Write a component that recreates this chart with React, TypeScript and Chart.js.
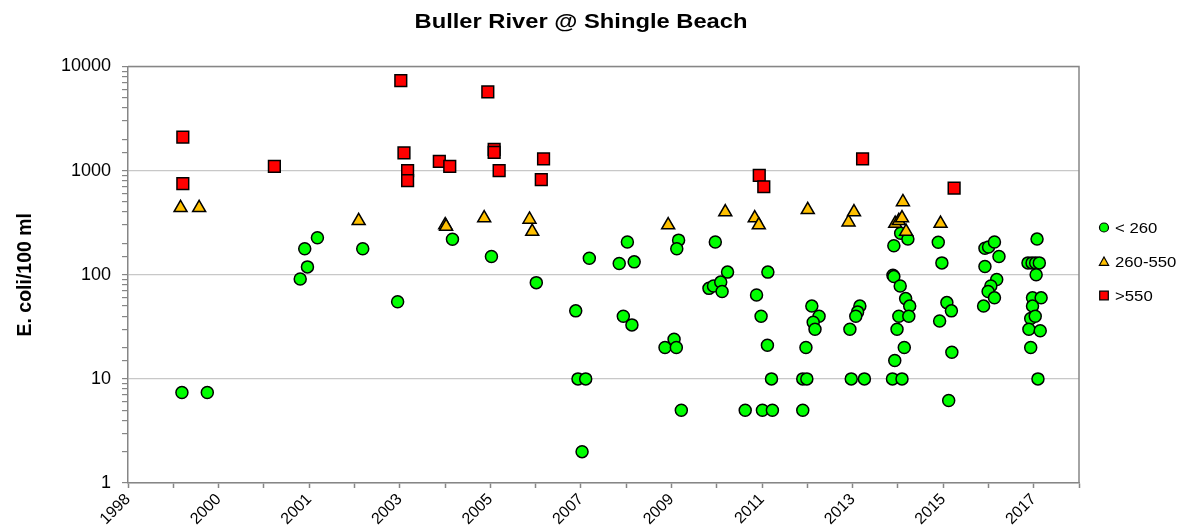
import { useEffect, useRef } from 'react';
import { Chart, registerables } from 'chart.js';

Chart.register(...registerables);

const FONT = '"Liberation Sans", Arial, Helvetica, sans-serif';

const chartTitle = 'Buller River @ Shingle Beach';
const yAxisTitle = 'E. coli/100 ml';
const seriesNames = ['< 260', '260-550', '>550'];

// x axis: Excel date axis starting 1998-01-01, minor unit 365 days, labelled every 730 days
const xStartYear = 1998;
const xMinorDays = 365;
const xMinorCount = 21;
const xTickLabels = ['1998', '2000', '2001', '2003', '2005', '2007', '2009', '2011', '2013', '2015', '2017'];
const yTickLabels = [1, 10, 100, 1000, 10000];

// "< 260" series (decimal year, E. coli/100 ml)
const lowYears = [
  1999.19, 1999.75, 2001.8, 2001.9, 2001.96, 2002.18, 2003.18, 2003.95, 2005.16, 2006.02,
  2007.01, 2007.88, 2007.93, 2008.1, 2008.02, 2008.18, 2008.84, 2009.02, 2009.17, 2008.93,
  2009.12, 2010.15, 2010.11, 2009.85, 2010.05, 2010.1, 2010.21, 2010.96, 2011.23, 2010.82,
  2010.92, 2011.08, 2011.11, 2012.12, 2011.87, 2011.97, 2012.11, 2012.2, 2011.62, 2012.0,
  2012.22, 2013.09, 2013.25, 2013.12, 2013.16, 2012.96, 2012.89, 2012.98, 2012.89, 2014.15,
  2014.1, 2014.06, 2013.93, 2013.96, 2014.25, 2015.05, 2015.21, 2014.9, 2014.88, 2014.9,
  2015.04, 2015.16, 2015.25, 2015.01, 2015.23, 2014.97, 2015.13, 2014.92, 2014.87, 2015.08,
  2015.88, 2015.96, 2016.07, 2016.17, 2015.91, 2016.18, 2016.11, 2016.91, 2016.99, 2017.12,
  2017.22, 2016.91, 2017.17, 2017.04, 2016.98, 2017.12, 2016.88, 2018.06, 2017.86, 2017.95,
  2018.03, 2018.11, 2018.04, 2017.96, 2018.15, 2017.96, 2017.92, 2018.02, 2017.88, 2018.13,
  2017.92, 2018.08,
];
const lowValues = [
  7.4, 7.4, 91, 178, 119, 227, 178, 55, 219, 150,
  84, 45, 10, 10, 2, 144, 128, 206, 133, 40,
  33, 215, 178, 20, 24, 20, 5, 206, 106, 74,
  78, 85, 69, 106, 64, 40, 21, 10, 5, 5,
  5, 50, 40, 35, 30, 20, 10, 10, 5, 50,
  44, 40, 30, 10, 10, 250, 220, 190, 99, 96,
  78, 59, 50, 40, 40, 30, 20, 15, 10, 10,
  205, 130, 54, 45, 36, 18, 6.2, 180, 185, 206,
  150, 120, 90, 78, 69, 60, 50, 220, 130, 130,
  130, 130, 100, 60, 60, 50, 38, 40, 30, 29,
  20, 10,
];

// "260-550" series
const midYears = [
  1999.16, 1999.57, 2003.09, 2005.0, 2005.02, 2005.86, 2006.86, 2006.92, 2009.92, 2011.18,
  2011.83, 2011.92, 2013.0, 2013.9, 2014.02, 2014.93, 2015.01, 2015.08, 2015.1, 2015.17,
  2015.93,
];
const midValues = [
  440, 440, 330, 300, 290, 350, 340, 260, 300, 400,
  350, 300, 420, 320, 400, 310, 330, 350, 500, 260,
  310,
];

// ">550" series
const highYears = [
  1999.21, 1999.21, 2001.23, 2004.02, 2004.09, 2004.17, 2004.17, 2004.87, 2005.1, 2005.94,
  2006.08, 2006.08, 2006.19, 2007.12, 2007.17, 2011.93, 2012.03, 2014.21, 2016.23,
];
const highValues = [
  2100, 750, 1100, 7300, 1480, 1000, 800, 1230, 1100, 5700,
  1600, 1500, 1000, 820, 1300, 900, 700, 1300, 680,
];

const toDays = (yr: number) => (yr - xStartYear) * 365.25;
const toPoints = (years: number[], values: number[]) =>
  years.map((yr, i) => ({ x: toDays(yr), y: values[i] }));

const isDecade = (v: number) => {
  const l = Math.log10(v);
  return Math.abs(l - Math.round(l)) < 1e-9;
};

const GREEN = '#00ff00';
const ORANGE = '#ffc000';
const RED = '#ff0000';
const EDGE = '#000000';
const AXIS = '#868686';

const framePlugin = {
  id: 'frame',
  beforeDatasetsDraw(chart: any) {
    const { ctx, chartArea: a } = chart;
    ctx.save();
    ctx.strokeStyle = AXIS;
    ctx.lineWidth = 1.5;
    ctx.beginPath();
    ctx.moveTo(a.left, a.top);
    ctx.lineTo(a.right, a.top);
    ctx.lineTo(a.right, a.bottom);
    ctx.stroke();
    ctx.restore();
  },
};

// Title drawn as canvas text, widened horizontally like the reference's stretched rendering
const titlePlugin = {
  id: 'stretchedTitle',
  afterDraw(chart: any) {
    const { ctx, chartArea: a } = chart;
    ctx.save();
    ctx.font = `bold 20px ${FONT}`;
    ctx.fillStyle = '#000';
    ctx.textAlign = 'center';
    ctx.textBaseline = 'alphabetic';
    const w = ctx.measureText(chartTitle).width;
    const sx = 333 / w;
    ctx.translate(a.left + 453, 27.5);
    ctx.scale(sx, 1);
    ctx.fillText(chartTitle, 0, 0);
    ctx.restore();
  },
};

const legendPlugin = {
  id: 'sideLegend',
  afterDraw(chart: any) {
    const { ctx, chartArea: a } = chart;
    const mx = a.right + 25;
    const tx = a.right + 36;
    const y0 = a.top + 161;
    const gap = 34;
    ctx.save();
    ctx.lineWidth = 1.2;
    ctx.strokeStyle = EDGE;
    ctx.beginPath();
    ctx.arc(mx, y0, 4.5, 0, Math.PI * 2);
    ctx.fillStyle = GREEN;
    ctx.fill();
    ctx.stroke();
    const ty = y0 + gap;
    ctx.beginPath();
    ctx.moveTo(mx, ty - 4.5);
    ctx.lineTo(mx + 4.6, ty + 3.8);
    ctx.lineTo(mx - 4.6, ty + 3.8);
    ctx.closePath();
    ctx.fillStyle = ORANGE;
    ctx.fill();
    ctx.stroke();
    const sy = y0 + gap * 2;
    ctx.beginPath();
    ctx.rect(mx - 4.3, sy - 4.3, 8.6, 8.6);
    ctx.fillStyle = RED;
    ctx.fill();
    ctx.stroke();
    ctx.fillStyle = '#000';
    ctx.font = `15.5px ${FONT}`;
    ctx.textBaseline = 'middle';
    ctx.textAlign = 'left';
    seriesNames.forEach((n, i) => {
      ctx.save();
      ctx.translate(tx, y0 + gap * i + 1);
      ctx.scale(1.08, 1);
      ctx.fillText(n, 0, 0);
      ctx.restore();
    });
    ctx.restore();
  },
};

export default function App() {
  const ref = useRef<HTMLCanvasElement | null>(null);

  useEffect(() => {
    if (!ref.current) return;
    const chart = new Chart(ref.current, {
      type: 'scatter',
      data: {
        datasets: [
          {
            label: seriesNames[0],
            data: toPoints(lowYears, lowValues),
            pointStyle: 'circle',
            pointRadius: 6,
            pointBackgroundColor: GREEN,
            pointBorderColor: EDGE,
            pointBorderWidth: 1.5,
            order: 3,
          },
          {
            label: seriesNames[1],
            data: toPoints(midYears, midValues),
            pointStyle: 'triangle',
            pointRadius: 7.5,
            pointBackgroundColor: ORANGE,
            pointBorderColor: EDGE,
            pointBorderWidth: 1.5,
            order: 2,
          },
          {
            label: seriesNames[2],
            data: toPoints(highYears, highValues),
            pointStyle: 'rect',
            pointRadius: 8.3,
            pointBackgroundColor: RED,
            pointBorderColor: EDGE,
            pointBorderWidth: 1.5,
            order: 1,
          },
        ],
      },
      options: {
        animation: false,
        responsive: true,
        maintainAspectRatio: false,
        events: [],
        layout: { padding: { left: 0, right: 105, top: 66.5, bottom: 0 } },
        plugins: {
          legend: { display: false },
          tooltip: { enabled: false },
          title: { display: false },
        },
        scales: {
          x: {
            type: 'linear',
            min: 0,
            max: xMinorDays * xMinorCount,
            afterBuildTicks: (scale: any) => {
              scale.ticks = Array.from({ length: xMinorCount + 1 }, (_, i) => ({ value: i * xMinorDays }));
            },
            afterFit: (scale: any) => {
              scale.height = 48;
            },
            ticks: {
              autoSkip: false,
              maxRotation: 45,
              minRotation: 45,
              padding: 2,
              color: '#000',
              font: { family: FONT, size: 16 },
              callback: (_v: any, i: number) => (i % 2 === 0 ? xTickLabels[i / 2] ?? '' : ''),
            },
            grid: {
              drawOnChartArea: false,
              drawTicks: true,
              tickLength: 5,
              tickColor: AXIS,
              tickWidth: 1.5,
            },
            border: { display: true, color: AXIS, width: 1.5 },
          },
          y: {
            type: 'logarithmic',
            min: 1,
            max: 10000,
            afterFit: (scale: any) => {
              scale.width = 128;
            },
            title: {
              display: true,
              text: yAxisTitle,
              color: '#000',
              font: { family: FONT, size: 19.5, weight: 'bold' },
              padding: { top: 14, bottom: 0 },
            },
            ticks: {
              autoSkip: false,
              padding: 11,
              color: '#000',
              font: { family: FONT, size: 18 },
              callback: (v: any) => (isDecade(Number(v)) && yTickLabels.includes(Math.round(Number(v))) ? String(Math.round(Number(v))) : ''),
            },
            grid: {
              drawOnChartArea: true,
              drawTicks: true,
              tickLength: 6,
              color: (c: any) => (c.tick && isDecade(c.tick.value) ? '#c8c8c8' : 'rgba(0,0,0,0)'),
              lineWidth: 1.2,
              tickColor: AXIS,
              tickWidth: 1.2,
            },
            border: { display: true, color: AXIS, width: 1.5 },
          },
        },
      },
      plugins: [framePlugin, titlePlugin, legendPlugin],
    });
    return () => chart.destroy();
  }, []);

  return (
    <div style={{ position: 'fixed', left: 0, top: 0, width: 1184, height: 531, background: '#fff' }}>
      <canvas ref={ref} />
    </div>
  );
}
